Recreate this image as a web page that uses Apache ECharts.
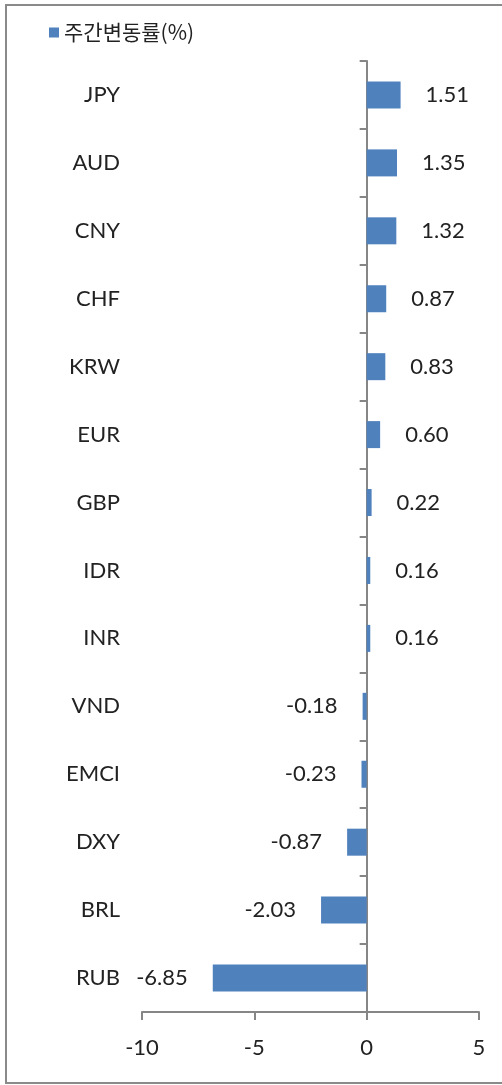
<!DOCTYPE html>
<html>
<head>
<meta charset="utf-8">
<script src="https://cdn.jsdelivr.net/npm/echarts@6/dist/echarts.min.js"></script>
<style>
  html, body { margin: 0; padding: 0; background: #fff; }
  #main { width: 502px; height: 1085px; }
</style>
</head>
<body>
<div id="main"></div>
<script>
// 통화별 주간 변동률 (위에서 아래 순서)
const currencies = ['JPY', 'AUD', 'CNY', 'CHF', 'KRW', 'EUR', 'GBP', 'IDR', 'INR', 'VND', 'EMCI', 'DXY', 'BRL', 'RUB']
const weeklyChange = [1.51, 1.35, 1.32, 0.87, 0.83, 0.60, 0.22, 0.16, 0.16, -0.18, -0.23, -0.87, -2.03, -6.85]
const xTicks = [-10, -5, 0, 5]
const seriesName = '주간변동률(%)'

const latin = 'Lato, "Noto Sans", sans-serif'
const axisGray = '#868686'

let myChart = echarts.init(document.getElementById('main'))

let barData = weeklyChange.map(v => ({
    value: v,
    label: { position: v < 0 ? 'left' : 'right' }
}))

let option = {
    animation: false,
    backgroundColor: '#fff',
    graphic: [{
        type: 'rect',
        shape: { x: 6, y: 5, width: 520, height: 1078 },
        style: { fill: 'none', stroke: '#8a8a8a', lineWidth: 2 },
        silent: true
    }],
    legend: {
        left: 49,
        top: 22,
        padding: 0,
        itemWidth: 10,
        itemHeight: 10,
        icon: 'rect',
        textStyle: {
            fontFamily: '"Noto Sans CJK KR", sans-serif',
            fontSize: 21,
            color: '#222'
        },
        data: [seriesName]
    },
    grid: { left: 142, right: 23, top: 61, bottom: 73 },
    xAxis: {
        type: 'value',
        min: xTicks[0],
        max: xTicks[xTicks.length - 1],
        interval: 5,
        splitLine: { show: false },
        axisLine: { show: true, lineStyle: { color: axisGray, width: 2 } },
        axisTick: { show: true, length: 8, lineStyle: { color: axisGray, width: 2 } },
        axisLabel: {
            margin: 25,
            fontFamily: latin,
            fontSize: 22,
            color: '#222'
        }
    },
    yAxis: [{
        type: 'category',
        data: currencies,
        inverse: true,
        axisLine: { show: true, onZero: true, lineStyle: { color: axisGray, width: 2 } },
        axisTick: { show: true, length: 7, lineStyle: { color: axisGray, width: 2 } },
        axisLabel: { show: false }
    }, {
        // 카테고리 이름은 플롯 왼쪽에 따로 표시
        type: 'category',
        data: currencies,
        inverse: true,
        position: 'left',
        axisLine: { show: false, onZero: false },
        axisTick: { show: false },
        axisLabel: {
            margin: 22,
            fontFamily: latin,
            fontSize: 22,
            color: '#222'
        }
    }],
    series: [{
        name: seriesName,
        type: 'bar',
        yAxisIndex: 0,
        barWidth: 27,
        itemStyle: { color: '#4f81bd' },
        label: {
            show: true,
            distance: 25,
            fontFamily: latin,
            fontSize: 22,
            color: '#222',
            formatter: p => p.value.toFixed(2)
        },
        data: barData
    }]
}

myChart.setOption(option)
</script>
</body>
</html>
